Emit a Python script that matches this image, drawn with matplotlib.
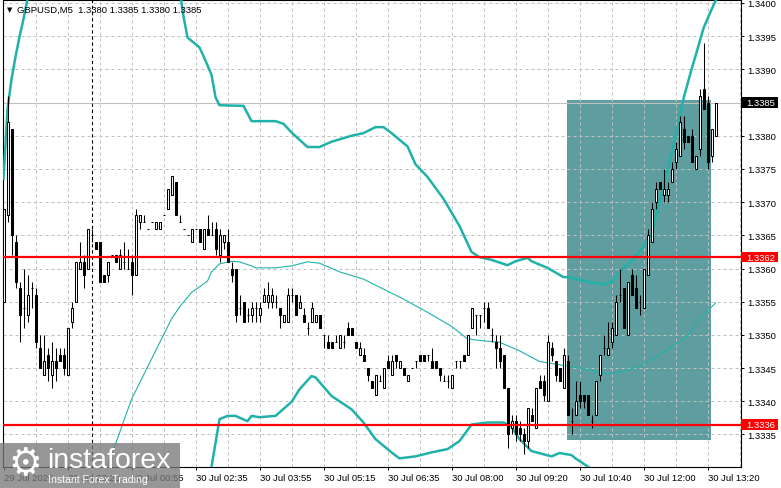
import matplotlib
matplotlib.use("Agg")
import matplotlib.pyplot as plt
import matplotlib.transforms as mtransforms
from matplotlib.patches import Rectangle
import numpy as np

plt.rcParams['font.family'] = ['Liberation Sans', 'DejaVu Sans']

# ---- candles (GBPUSD M5), one value per bar ----
opens = [
    1.3355, 1.3368, 1.3381, 1.3364, 1.3357, 1.3354, 1.3353, 1.3357, 1.3356, 1.3348,
    1.3344, 1.3347, 1.3344, 1.3346, 1.3347, 1.3347, 1.3344, 1.3352, 1.3355, 1.3360,
    1.3361, 1.3360, 1.3365, 1.3364, 1.3364, 1.3359, 1.3359, 1.3362, 1.3362, 1.3360,
    1.3361, 1.3360, 1.3361, 1.3359, 1.3367, 1.3367, 1.3366, 1.3367, 1.3366, 1.3366,
    1.3368, 1.3369, 1.3371, 1.3373, 1.3367, 1.3366, 1.3365, 1.3364, 1.3366, 1.3366,
    1.3363, 1.3366, 1.3365, 1.3366, 1.3362, 1.3364, 1.3364, 1.3360, 1.3360, 1.3354,
    1.3355, 1.3353, 1.3353, 1.3354, 1.3353, 1.3355, 1.3355, 1.3355, 1.3355, 1.3354,
    1.3352, 1.3352, 1.3356, 1.3356, 1.3354, 1.3353, 1.3351, 1.3352, 1.3352, 1.3353,
    1.3350, 1.3349, 1.3349, 1.3349, 1.3348, 1.3349, 1.3351, 1.3351, 1.3349, 1.3347,
    1.3347, 1.3345, 1.3343, 1.3341, 1.3343, 1.3342, 1.3346, 1.3344, 1.3347, 1.3345,
    1.3345, 1.3343, 1.3345, 1.3346, 1.3347, 1.3347, 1.3347, 1.3346, 1.3346, 1.3345,
    1.3343, 1.3343, 1.3342, 1.3346, 1.3346, 1.3347, 1.3347, 1.3351, 1.3353, 1.3353,
    1.3354, 1.3354, 1.3350, 1.3349, 1.3348, 1.3347, 1.3342, 1.3336, 1.3337, 1.3336,
    1.3335, 1.3334, 1.3338, 1.3336, 1.3343, 1.3343, 1.3340, 1.3348, 1.3346, 1.3345,
    1.3342, 1.3346, 1.3337, 1.3338, 1.3341, 1.3341, 1.3341, 1.3337, 1.3338, 1.3344,
    1.3348, 1.3347, 1.3349, 1.3350, 1.3356, 1.3357, 1.3350, 1.3359, 1.3357, 1.3355,
    1.3354, 1.3359, 1.3364, 1.3370, 1.3373, 1.3371, 1.3371, 1.3373, 1.3376, 1.3377,
    1.3381, 1.3380, 1.3380, 1.3375, 1.3378, 1.3387, 1.3385, 1.3377, 1.3380,
]
highs = [
    1.3369, 1.3386, 1.3381, 1.3365, 1.3358, 1.3360, 1.3359, 1.3358, 1.3357, 1.3350,
    1.3350, 1.3348, 1.3349, 1.3348, 1.3348, 1.3348, 1.3351, 1.3355, 1.3361, 1.3364,
    1.3362, 1.3366, 1.3366, 1.3364, 1.3364, 1.3359, 1.3361, 1.3362, 1.3362, 1.3363,
    1.3364, 1.3363, 1.3362, 1.3369, 1.3368, 1.3368, 1.3366, 1.3367, 1.3367, 1.3367,
    1.3368, 1.3372, 1.3374, 1.3373, 1.3368, 1.3366, 1.3365, 1.3366, 1.3366, 1.3366,
    1.3366, 1.3368, 1.3367, 1.3367, 1.3366, 1.3365, 1.3366, 1.3361, 1.3360, 1.3356,
    1.3355, 1.3354, 1.3355, 1.3355, 1.3355, 1.3357, 1.3358, 1.3357, 1.3356, 1.3354,
    1.3353, 1.3357, 1.3357, 1.3356, 1.3356, 1.3354, 1.3352, 1.3355, 1.3353, 1.3353,
    1.3350, 1.3350, 1.3349, 1.3350, 1.3350, 1.3350, 1.3352, 1.3351, 1.3349, 1.3349,
    1.3348, 1.3345, 1.3343, 1.3344, 1.3344, 1.3345, 1.3347, 1.3347, 1.3347, 1.3346,
    1.3345, 1.3344, 1.3345, 1.3346, 1.3347, 1.3347, 1.3347, 1.3348, 1.3346, 1.3345,
    1.3344, 1.3344, 1.3344, 1.3346, 1.3346, 1.3347, 1.3350, 1.3354, 1.3353, 1.3353,
    1.3355, 1.3355, 1.3351, 1.3350, 1.3350, 1.3347, 1.3342, 1.3338, 1.3338, 1.3337,
    1.3336, 1.3339, 1.3339, 1.3342, 1.3344, 1.3344, 1.3350, 1.3349, 1.3346, 1.3345,
    1.3348, 1.3347, 1.3339, 1.3343, 1.3343, 1.3341, 1.3341, 1.3338, 1.3343, 1.3347,
    1.3350, 1.3352, 1.3352, 1.3356, 1.3360, 1.3357, 1.3358, 1.3360, 1.3359, 1.3356,
    1.3360, 1.3366, 1.3370, 1.3373, 1.3373, 1.3375, 1.3373, 1.3376, 1.3379, 1.3383,
    1.3383, 1.3380, 1.3381, 1.3377, 1.3387, 1.3394, 1.3386, 1.3381, 1.3385,
]
lows = [
    1.3355, 1.3367, 1.3362, 1.3357, 1.3349, 1.3351, 1.3352, 1.3354, 1.3348, 1.3345,
    1.3344, 1.3343, 1.3342, 1.3343, 1.3346, 1.3344, 1.3344, 1.3351, 1.3355, 1.3360,
    1.3357, 1.3360, 1.3364, 1.3363, 1.3358, 1.3358, 1.3358, 1.3362, 1.3361, 1.3360,
    1.3360, 1.3360, 1.3356, 1.3359, 1.3366, 1.3367, 1.3366, 1.3367, 1.3366, 1.3366,
    1.3368, 1.3369, 1.3371, 1.3368, 1.3367, 1.3366, 1.3365, 1.3364, 1.3366, 1.3364,
    1.3363, 1.3365, 1.3365, 1.3362, 1.3361, 1.3363, 1.3361, 1.3358, 1.3352, 1.3353,
    1.3352, 1.3352, 1.3352, 1.3352, 1.3352, 1.3355, 1.3354, 1.3354, 1.3354, 1.3351,
    1.3352, 1.3352, 1.3355, 1.3353, 1.3354, 1.3352, 1.3350, 1.3352, 1.3352, 1.3351,
    1.3348, 1.3348, 1.3348, 1.3349, 1.3348, 1.3348, 1.3350, 1.3350, 1.3348, 1.3347,
    1.3346, 1.3343, 1.3342, 1.3341, 1.3343, 1.3342, 1.3345, 1.3344, 1.3345, 1.3345,
    1.3344, 1.3343, 1.3345, 1.3345, 1.3346, 1.3346, 1.3346, 1.3345, 1.3345, 1.3343,
    1.3343, 1.3342, 1.3342, 1.3345, 1.3345, 1.3346, 1.3347, 1.3351, 1.3350, 1.3351,
    1.3352, 1.3351, 1.3349, 1.3345, 1.3345, 1.3342, 1.3333, 1.3335, 1.3334, 1.3334,
    1.3332, 1.3333, 1.3337, 1.3336, 1.3342, 1.3340, 1.3340, 1.3346, 1.3343, 1.3343,
    1.3342, 1.3338, 1.3335, 1.3338, 1.3339, 1.3339, 1.3338, 1.3336, 1.3338, 1.3343,
    1.3347, 1.3347, 1.3348, 1.3350, 1.3355, 1.3351, 1.3350, 1.3356, 1.3354, 1.3353,
    1.3354, 1.3359, 1.3364, 1.3369, 1.3372, 1.3370, 1.3370, 1.3373, 1.3375, 1.3377,
    1.3378, 1.3379, 1.3376, 1.3375, 1.3377, 1.3384, 1.3375, 1.3376, 1.3380,
]
closes = [
    1.3369, 1.3382, 1.3365, 1.3358, 1.3353, 1.3354, 1.3356, 1.3357, 1.3349, 1.3345,
    1.3346, 1.3345, 1.3346, 1.3345, 1.3346, 1.3345, 1.3351, 1.3354, 1.3361, 1.3361,
    1.3359, 1.3366, 1.3365, 1.3363, 1.3358, 1.3358, 1.3361, 1.3362, 1.3361, 1.3362,
    1.3361, 1.3360, 1.3359, 1.3368, 1.3368, 1.3367, 1.3366, 1.3367, 1.3367, 1.3367,
    1.3368, 1.3372, 1.3374, 1.3368, 1.3367, 1.3366, 1.3365, 1.3366, 1.3366, 1.3364,
    1.3366, 1.3365, 1.3365, 1.3363, 1.3365, 1.3365, 1.3361, 1.3359, 1.3353, 1.3354,
    1.3352, 1.3353, 1.3354, 1.3354, 1.3354, 1.3356, 1.3356, 1.3356, 1.3355, 1.3353,
    1.3353, 1.3356, 1.3356, 1.3353, 1.3355, 1.3352, 1.3351, 1.3354, 1.3353, 1.3351,
    1.3350, 1.3348, 1.3348, 1.3349, 1.3350, 1.3349, 1.3350, 1.3350, 1.3348, 1.3348,
    1.3346, 1.3344, 1.3342, 1.3344, 1.3343, 1.3345, 1.3345, 1.3346, 1.3346, 1.3346,
    1.3344, 1.3344, 1.3345, 1.3346, 1.3346, 1.3346, 1.3347, 1.3345, 1.3345, 1.3344,
    1.3343, 1.3343, 1.3344, 1.3346, 1.3346, 1.3346, 1.3350, 1.3354, 1.3353, 1.3353,
    1.3354, 1.3351, 1.3350, 1.3348, 1.3346, 1.3342, 1.3335, 1.3337, 1.3335, 1.3335,
    1.3334, 1.3339, 1.3337, 1.3342, 1.3342, 1.3341, 1.3349, 1.3347, 1.3344, 1.3343,
    1.3347, 1.3338, 1.3337, 1.3340, 1.3340, 1.3340, 1.3338, 1.3337, 1.3343, 1.3347,
    1.3348, 1.3348, 1.3351, 1.3355, 1.3356, 1.3351, 1.3358, 1.3356, 1.3354, 1.3355,
    1.3360, 1.3365, 1.3369, 1.3372, 1.3372, 1.3372, 1.3372, 1.3375, 1.3378, 1.3382,
    1.3379, 1.3379, 1.3376, 1.3377, 1.3386, 1.3384, 1.3376, 1.3381, 1.3385,
]

upper_bars = [0, 1, 2, 3, 4, 5, 6, 8, 43, 44, 45, 46, 47, 49, 50, 52, 53, 54, 60, 62,
              68, 70, 72, 76, 79, 82, 87, 90, 93, 95, 97, 101, 103, 106, 110, 114, 117,
              119, 122, 126, 128, 131, 132, 136, 140, 141, 147, 150, 152, 154, 157, 159,
              162, 164, 166, 168, 170, 172, 173, 175, 177, 178]
upper_vals = [1.33735, 1.33840, 1.33885, 1.33919, 1.33949, 1.33976, 1.34006, 1.34040,
              1.34040, 1.34020, 1.33980, 1.33948, 1.33943, 1.33933, 1.33920, 1.33892,
              1.33858, 1.33846, 1.33845, 1.33822, 1.33822, 1.33818, 1.33805, 1.33783,
              1.33783, 1.33791, 1.33800, 1.33804, 1.33813, 1.33813, 1.33804, 1.33784,
              1.33757, 1.33738, 1.33705, 1.33664, 1.33625, 1.33617, 1.33613, 1.33605,
              1.33611, 1.33616, 1.33611, 1.33601, 1.33587, 1.33587, 1.33579, 1.33576,
              1.33580, 1.33594, 1.33612, 1.33625, 1.33652, 1.33700, 1.33747, 1.33797,
              1.33856, 1.33900, 1.33920, 1.33962, 1.33990, 1.34003]

middle_bars = [25, 26, 32, 42, 44, 47, 51, 52, 54, 57, 59, 62, 63, 68, 72, 76, 79, 84,
               90, 95, 100, 106, 112, 116, 120, 124, 129, 134, 141, 146, 151, 155, 159,
               163, 167, 171, 174, 177, 178]
middle_vals = [1.33290, 1.33302, 1.33403, 1.33524, 1.33542, 1.33564, 1.33581, 1.33595,
               1.33607, 1.33611, 1.33610, 1.33604, 1.33601, 1.33601, 1.33604, 1.33610,
               1.33608, 1.33595, 1.33584, 1.33569, 1.33554, 1.33534, 1.33513, 1.33494,
               1.33491, 1.33489, 1.33476, 1.33460, 1.33453, 1.33448, 1.33441, 1.33445,
               1.33453, 1.33466, 1.33482, 1.33498, 1.33524, 1.33542, 1.33548]

lower_bars = [51, 52, 54, 56, 58, 61, 62, 64, 68, 72, 74, 77, 78, 82, 87, 90, 93, 97,
              99, 103, 107, 111, 114, 117, 121, 125, 127, 129, 132, 137, 139, 142, 143,
              147, 149]
lower_vals = [1.33283, 1.33301, 1.33373, 1.33378, 1.33378, 1.33370, 1.33378, 1.33376,
              1.33378, 1.33399, 1.33418, 1.33438, 1.33436, 1.33408, 1.33388, 1.33368,
              1.33343, 1.33323, 1.33314, 1.33317, 1.33323, 1.33328, 1.33340, 1.33365,
              1.33368, 1.33368, 1.33362, 1.33343, 1.33325, 1.33317, 1.33322, 1.33319,
              1.33314, 1.33298, 1.33275]

# ---- axis labels and levels ----
time_bars = [0, 16, 32, 48, 64, 80, 96, 112, 128, 144, 160, 176]
time_labels = ["29 Jul 2026", "29 Jul 23:20", "30 Jul 00:55", "30 Jul 02:35",
               "30 Jul 03:55", "30 Jul 05:15", "30 Jul 06:35", "30 Jul 08:00",
               "30 Jul 09:20", "30 Jul 10:40", "30 Jul 12:00", "30 Jul 13:20"]
price_ticks = [1.3335, 1.3340, 1.3345, 1.3350, 1.3355, 1.3360, 1.3365,
               1.3370, 1.3375, 1.3380, 1.3385, 1.3390, 1.3395, 1.3400]
red_levels = [1.33617, 1.33365]
red_labels = ["1.3362", "1.3336"]
bid_price = 1.3385
bid_label = "1.3385"
zone_bars = (140.9, 176.9)
zone_prices = (1.33342, 1.33854)
separator_bar = 22
header = "GBPUSD,M5  1.3380 1.3385 1.3380 1.3385"

W, H = 781, 489
band_color = '#20b2aa'

fig = plt.figure(figsize=(W / 100, H / 100), dpi=100, facecolor='white')
ax = fig.add_axes([2.5 / W, 21 / H, 738.5 / W, 467 / H])
ax.set_xlim(-0.25, 184.375)
ax.set_ylim(1.33301, 1.340045)

# target zone rectangle (background)
ax.add_patch(Rectangle((zone_bars[0], zone_prices[0]), zone_bars[1] - zone_bars[0],
                       zone_prices[1] - zone_prices[0], facecolor='#5f9ea0',
                       edgecolor='none', zorder=1))

# dashed grid
for p in price_ticks:
    ax.axhline(p, color='#c0c0c0', lw=0.72, ls=(0, (3, 3)), zorder=2)
for b in range(8, 185, 8):
    ax.axvline(b, color='#c0c0c0', lw=0.72, ls=(0, (3, 3)), zorder=2)

# bid line and period separator
ax.axhline(bid_price, color='#c0c0c0', lw=0.8, zorder=2.5)
ax.axvline(separator_bar, color='black', lw=0.8, ls=(0, (3, 2.5)), zorder=2.5)

# bands
ax.plot(upper_bars, upper_vals, color=band_color, lw=1.8, zorder=4)
ax.plot(lower_bars, lower_vals, color=band_color, lw=1.8, zorder=4)
ax.plot(middle_bars, middle_vals, color=band_color, lw=0.8, zorder=4)

# candles
x = np.arange(len(opens))
o = np.array(opens)
c = np.array(closes)
up = c >= o
ax.vlines(x, lows, highs, color='black', lw=0.75, zorder=5)
ax.bar(x[up], (c - o)[up], bottom=o[up], width=0.5, facecolor='white',
       edgecolor='black', lw=0.75, zorder=6)
ax.bar(x[~up], (c - o)[~up], bottom=o[~up], width=0.5, facecolor='black',
       edgecolor='black', lw=0.75, zorder=6)

# red horizontal levels
for lv in red_levels:
    ax.axhline(lv, color='#ff0000', lw=1.6, zorder=7)

# axes styling
for s in ax.spines.values():
    s.set_color('black')
    s.set_linewidth(0.8)
ax.yaxis.tick_right()
ax.set_yticks(price_ticks)
ax.set_yticklabels(["%.4f" % p for p in price_ticks])
ax.set_xticks(time_bars)
ax.set_xticklabels(time_labels, ha='left')
ax.tick_params(axis='y', length=2.5, width=0.7, pad=2, labelsize=6.8)
ax.tick_params(axis='x', length=2.5, width=0.7, pad=1.5, labelsize=6.8)

# price boxes on the right axis
trans = mtransforms.blended_transform_factory(ax.transAxes, ax.transData)
box_w = 37 / 738.5
box_h = 0.000155
for lv, txt, col in [(red_levels[0], red_labels[0], '#ff0000'),
                     (red_levels[1], red_labels[1], '#ff0000'),
                     (bid_price, bid_label, 'black')]:
    ax.add_patch(Rectangle((1.0, lv - box_h / 2), box_w, box_h, transform=trans,
                           facecolor=col, edgecolor='none', clip_on=False, zorder=8))
    ax.text(1.0 + 5.5 / 738.5, lv, txt, transform=trans, color='white', fontsize=6.8,
            va='center', ha='left', zorder=9, clip_on=False)

# header
ax.text(0.0095, 0.9807, "\u25bc", transform=ax.transAxes, fontsize=5,
        family='DejaVu Sans', va='center', ha='center', zorder=9)
ax.text(0.0196, 0.9807, header, transform=ax.transAxes, fontsize=6.8,
        va='center', ha='left', zorder=9)

# watermark (sits over the first tick labels, as in the original)
fig.patches.append(Rectangle((0, 0), 180 / W, 45 / H, transform=fig.transFigure,
                             facecolor='#7a7a7a', alpha=0.78, edgecolor='none', zorder=10))
fig.text(25 / W, 1 - 465 / H, "\u2699", color='white', fontsize=27, family='DejaVu Sans',
         ha='center', va='center', zorder=11)
fig.text(47 / W, 1 - 461 / H, "instaforex", color='white', fontsize=20.5,
         ha='left', va='center', zorder=11)
fig.text(48 / W, 1 - 480 / H, "Instant Forex Trading", color='white', fontsize=7.6,
         ha='left', va='center', zorder=11)

fig.savefig("out.png", dpi=100, facecolor='white')
